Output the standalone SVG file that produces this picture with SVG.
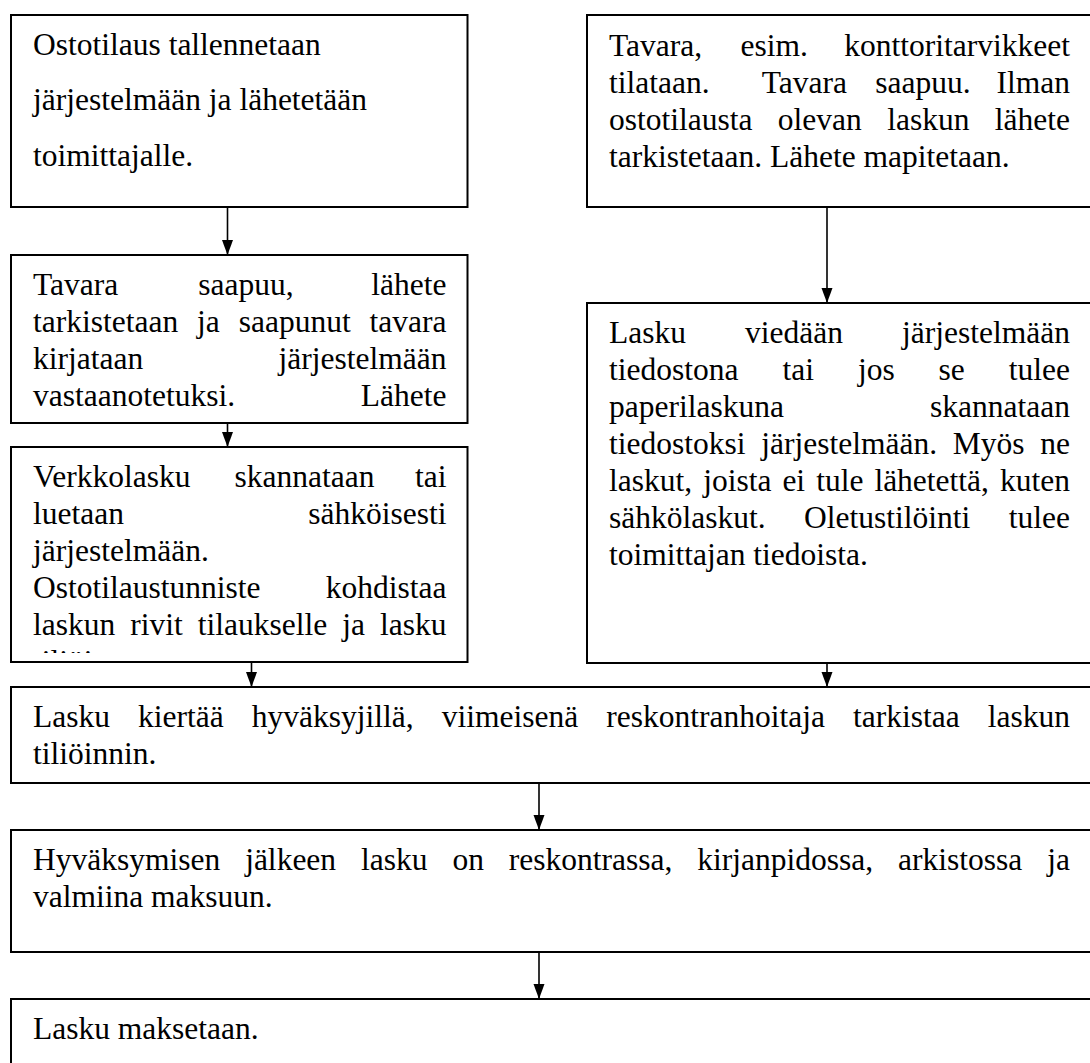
<svg xmlns="http://www.w3.org/2000/svg" width="1090" height="1063" viewBox="0 0 1090 1063">
<style>
.box{fill:#fff;stroke:#000;stroke-width:2}
.t{font-family:"Liberation Serif","Times New Roman",serif;font-size:31.5px;fill:#000}
.c{stroke:#000;stroke-width:1.6;fill:none;marker-end:url(#ah)}
</style>
<defs>
<marker id="ah" markerUnits="userSpaceOnUse" markerWidth="15" markerHeight="12" refX="15" refY="6" orient="auto">
<path d="M0,0.5 L15,6 L0,11.5 z" fill="#000"/>
</marker>
<clipPath id="clip3"><rect x="11" y="447" width="457" height="206"/></clipPath>
</defs>
<rect width="1090" height="1063" fill="#fff"/>

<g id="connectors">
<line class="c" x1="227.5" y1="207" x2="227.5" y2="255"/>
<line class="c" x1="227.5" y1="423" x2="227.5" y2="447"/>
<line class="c" x1="827" y1="207" x2="827" y2="303"/>
<line class="c" x1="251.5" y1="662" x2="251.5" y2="687"/>
<line class="c" x1="827" y1="663" x2="827" y2="687"/>
<line class="c" x1="539" y1="783" x2="539" y2="830"/>
<line class="c" x1="539" y1="952" x2="539" y2="999"/>
</g>

<g id="n1">
<rect class="box" x="11" y="15" width="456.5" height="192"/>
<text class="t"><tspan x="33" y="54.5">Ostotilaus tallennetaan</tspan><tspan x="33" y="110">järjestelmään ja lähetetään</tspan><tspan x="33" y="165.5">toimittajalle.</tspan></text>
</g>

<g id="n2">
<rect class="box" x="11" y="255" width="456.5" height="168"/>
<text class="t"><tspan x="33" y="295">Tavara</tspan><tspan x="198.2" y="295">saapuu,</tspan><tspan x="371.28" y="295">lähete</tspan><tspan x="33" y="332">tarkistetaan</tspan><tspan x="197.1" y="332">ja</tspan><tspan x="238.7" y="332">saapunut</tspan><tspan x="369.55" y="332">tavara</tspan><tspan x="33" y="369">kirjataan</tspan><tspan x="278.54" y="369">järjestelmään</tspan><tspan x="33" y="406">vastaanotetuksi.</tspan><tspan x="360.79" y="406">Lähete</tspan></text>
</g>

<g id="n3">
<rect class="box" x="11" y="447" width="456.5" height="215"/>
<text class="t" clip-path="url(#clip3)"><tspan x="33" y="487">Verkkolasku</tspan><tspan x="234.5" y="487">skannataan</tspan><tspan x="415" y="487">tai</tspan><tspan x="33" y="524">luetaan</tspan><tspan x="308.25" y="524">sähköisesti</tspan><tspan x="33" y="561">järjestelmään.</tspan><tspan x="33" y="598">Ostotilaustunniste</tspan><tspan x="325.76" y="598">kohdistaa</tspan><tspan x="33" y="635">laskun</tspan><tspan x="130.25" y="635">rivit</tspan><tspan x="197.76" y="635">tilaukselle</tspan><tspan x="342.26" y="635">ja</tspan><tspan x="380" y="635">lasku</tspan><tspan x="33" y="672">tiliöity.</tspan></text>
</g>

<g id="n4">
<rect class="box" x="587" y="15" width="504" height="192"/>
<text class="t"><tspan x="609" y="55.5">Tavara,</tspan><tspan x="740.6" y="55.5">esim.</tspan><tspan x="844.27" y="55.5">konttoritarvikkeet</tspan><tspan x="609" y="92.5">tilataan.</tspan><tspan x="761.7" y="92.5">Tavara</tspan><tspan x="875.2" y="92.5">saapuu.</tspan><tspan x="996.51" y="92.5">Ilman</tspan><tspan x="609" y="129.5">ostotilausta</tspan><tspan x="777.85" y="129.5">olevan</tspan><tspan x="887.19" y="129.5">laskun</tspan><tspan x="994.78" y="129.5">lähete</tspan><tspan x="609" y="166.5">tarkistetaan. Lähete mapitetaan.</tspan></text>
</g>

<g id="n5">
<rect class="box" x="587" y="303" width="504" height="360"/>
<text class="t"><tspan x="609" y="343">Lasku</tspan><tspan x="745.05" y="343">viedään</tspan><tspan x="902.04" y="343">järjestelmään</tspan><tspan x="609" y="380">tiedostona</tspan><tspan x="782.44" y="380">tai</tspan><tspan x="857.88" y="380">jos</tspan><tspan x="938.58" y="380">se</tspan><tspan x="1008.76" y="380">tulee</tspan><tspan x="609" y="417">paperilaskuna</tspan><tspan x="930.05" y="417">skannataan</tspan><tspan x="609" y="454">tiedostoksi</tspan><tspan x="761.24" y="454">järjestelmään.</tspan><tspan x="952.79" y="454">Myös</tspan><tspan x="1040.26" y="454">ne</tspan><tspan x="609" y="491">laskut,</tspan><tspan x="703.13" y="491">joista</tspan><tspan x="782.39" y="491">ei</tspan><tspan x="816.13" y="491">tule</tspan><tspan x="874.38" y="491">lähetettä,</tspan><tspan x="1000" y="491">kuten</tspan><tspan x="609" y="528">sähkölaskut.</tspan><tspan x="804.05" y="528">Oletustilöinti</tspan><tspan x="1008.76" y="528">tulee</tspan><tspan x="609" y="565">toimittajan tiedoista.</tspan></text>
</g>

<g id="n6">
<rect class="box" x="11" y="687" width="1080" height="96"/>
<text class="t"><tspan x="33" y="727">Lasku</tspan><tspan x="138.03" y="727">kiertää</tspan><tspan x="251.78" y="727">hyväksyjillä,</tspan><tspan x="441.7" y="727">viimeisenä</tspan><tspan x="606.23" y="727">reskontranhoitaja</tspan><tspan x="852.97" y="727">tarkistaa</tspan><tspan x="987.75" y="727">laskun</tspan><tspan x="33" y="764">tiliöinnin.</tspan></text>
</g>

<g id="n7">
<rect class="box" x="11" y="830" width="1080" height="122"/>
<text class="t"><tspan x="33" y="870">Hyväksymisen</tspan><tspan x="245.15" y="870">jälkeen</tspan><tspan x="361.03" y="870">lasku</tspan><tspan x="452.44" y="870">on</tspan><tspan x="508.85" y="870">reskontrassa,</tspan><tspan x="697.34" y="870">kirjanpidossa,</tspan><tspan x="898.11" y="870">arkistossa</tspan><tspan x="1047.26" y="870">ja</tspan><tspan x="33" y="907">valmiina maksuun.</tspan></text>
</g>

<g id="n8">
<rect class="box" x="11" y="999" width="1080" height="75"/>
<text class="t"><tspan x="33" y="1039">Lasku maksetaan.</tspan></text>
</g>
</svg>
